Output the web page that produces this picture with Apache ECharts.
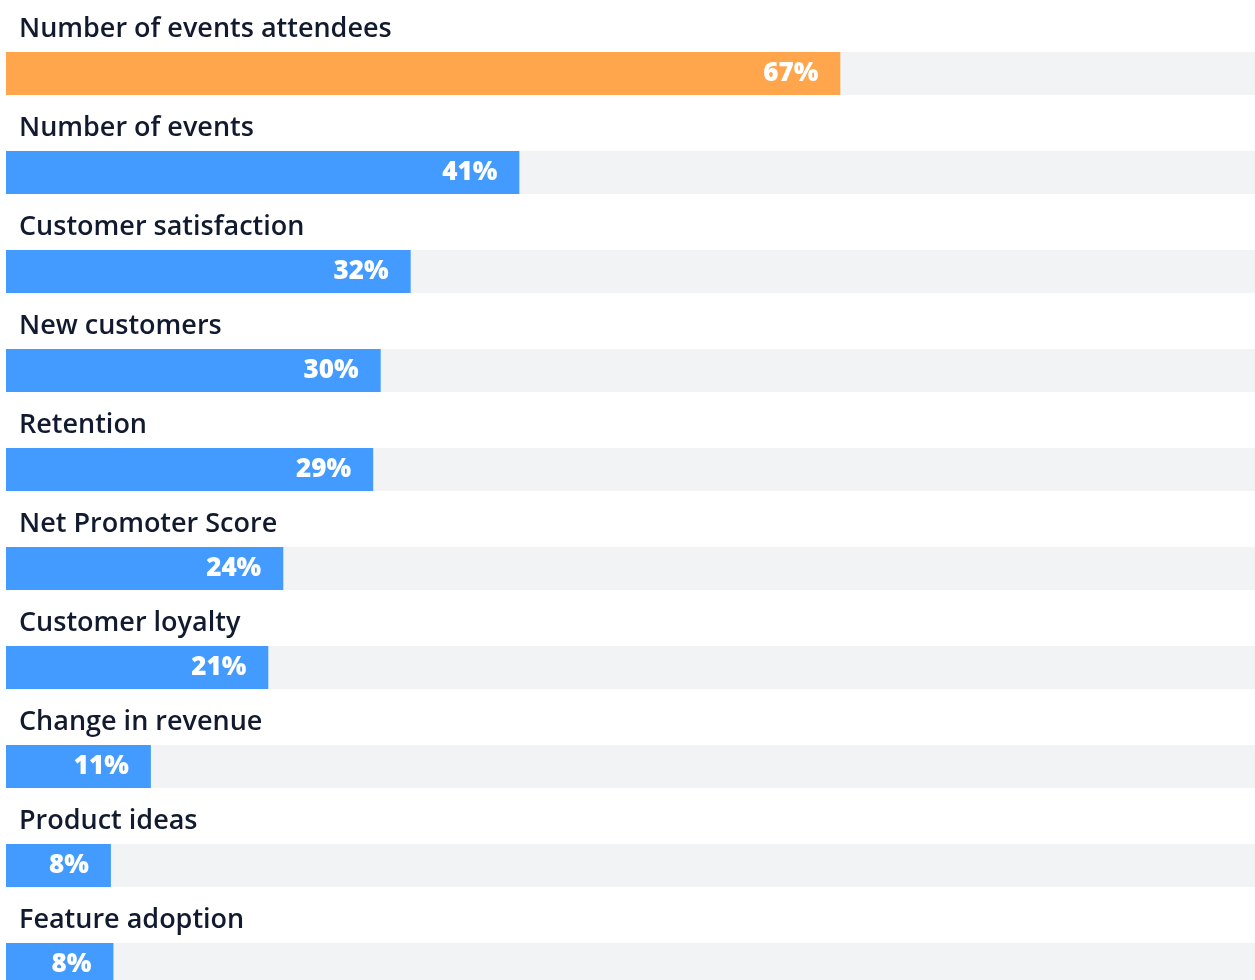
<!DOCTYPE html>
<html>
<head>
<meta charset="utf-8">
<script src="https://cdn.jsdelivr.net/npm/echarts@6/dist/echarts.min.js"></script>
<style>
  html, body { margin: 0; padding: 0; background: #fff; overflow: hidden; }
  #container { width: 1255px; height: 1020px; }
</style>
</head>
<body>
<div id="container"></div>
<script>
// categories, top to bottom
const categories = [
  'Number of events attendees',
  'Number of events',
  'Customer satisfaction',
  'New customers',
  'Retention',
  'Net Promoter Score',
  'Customer loyalty',
  'Change in revenue',
  'Product ideas',
  'Feature adoption'
]
// bar lengths as measured on the picture (percent of the track)
const shares = [66.8, 41.1, 32.4, 30.0, 29.4, 22.2, 21.0, 11.6, 8.4, 8.6]
// printed labels
const shareLabels = ['67%', '41%', '32%', '30%', '29%', '24%', '21%', '11%', '8%', '8%']

const chart = echarts.init(document.getElementById('container'), null, { renderer: 'canvas' })

const option = {
  animation: false,
  grid: { left: 6, right: 0, top: 24, height: 990 },
  xAxis: { type: 'value', min: 0, max: 100, show: false },
  yAxis: {
    type: 'category',
    data: categories,
    inverse: true,
    axisLine: { show: false },
    axisTick: { show: false },
    axisLabel: {
      inside: true,
      margin: 13,
      verticalAlign: 'bottom',
      padding: [0, 0, 31, 0],
      color: '#111a2e',
      fontFamily: 'Open Sans',
      fontWeight: 600,
      fontSize: 27
    },
    z: 10
  },
  series: [
    {
      type: 'bar',
      barWidth: 43,
      showBackground: true,
      backgroundStyle: { color: '#f2f3f5' },
      data: shares.map((v, i) => ({
        value: v,
        itemStyle: { color: i === 0 ? '#ffa64d' : '#439bff' }
      })),
      label: {
        show: true,
        position: 'insideRight',
        distance: 22,
        color: '#fff',
        fontFamily: 'Open Sans',
        fontWeight: 800,
        fontSize: 26,
        formatter: p => shareLabels[p.dataIndex]
      }
    }
  ]
}

chart.setOption(option)
window.addEventListener('resize', function() {
  chart.resize()
})
</script>
</body>
</html>
